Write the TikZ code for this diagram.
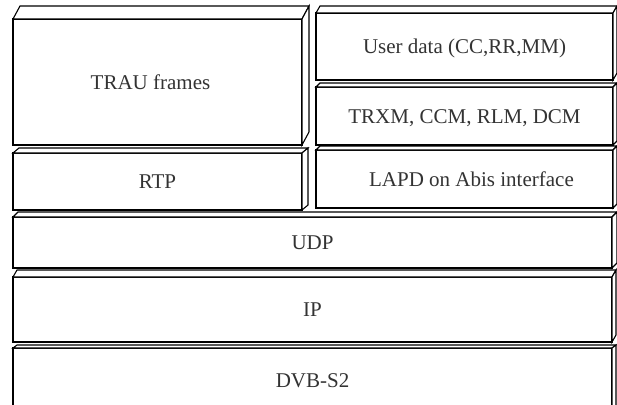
\documentclass[tikz,border=0pt]{standalone}
\usepackage{fontspec}
\setmainfont{Liberation Serif}
\usetikzlibrary{calc}
\definecolor{txt}{HTML}{333333}
\tikzset{
  layer/.style={draw=black, fill=white, line width=1.2pt, inner sep=0pt, outer sep=0pt,
    text=txt, font=\fontsize{21}{25}\selectfont, text height=14pt, text depth=0pt},
  face/.style={draw=black, fill=white, line width=1.1pt, line join=miter}
}
\newcommand\layerbox[8]{%
  \node[layer, minimum width={#4pt-#2pt}, minimum height={#5pt-#3pt}] (#1) at ({(#2+#4)/2},{(#3+#5)/2}) {#8};
  \draw[face] (#1.north west) -- ++(#6,-#7) -- ($(#1.north east)+(#6,-#7)$) -- (#1.north east) -- cycle;
  \draw[face] (#1.north east) -- ++(#6,-#7) -- ($(#1.south east)+(#6,-#7)$) -- (#1.south east) -- cycle;
}
\begin{document}
\begin{tikzpicture}[x=1pt,y=-1pt]
\path[use as bounding box] (0,0) rectangle (617,404);
\clip (0,0) rectangle (617,404);
\layerbox{trau}{13}{19}{302}{145}{7}{13}{\hspace*{-14pt}TRAU frames}
\layerbox{user}{316}{13}{613}{80}{4}{7}{User data (CC,RR,MM)}
\layerbox{trxm}{316}{87}{613}{145}{4}{4}{TRXM, CCM, RLM, DCM}
\layerbox{lapd}{316}{150}{613}{208}{4}{4}{\hspace*{14pt}LAPD on Abis interface}
\layerbox{rtp}{13}{153}{302}{210}{6}{5}{RTP}
\layerbox{udp}{13}{217}{612}{268}{5}{5}{UDP}
\layerbox{ip}{13}{277}{612}{342}{4}{7}{IP}
\layerbox{dvb}{13}{348}{612}{412}{4}{3}{DVB-S2}
\end{tikzpicture}
\end{document}
